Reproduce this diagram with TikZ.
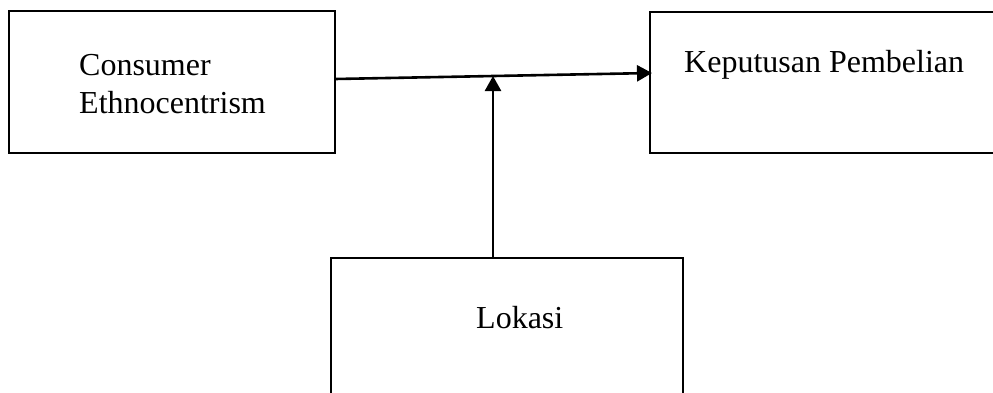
\documentclass[tikz,border=0pt]{standalone}
\usepackage{fontspec}
\setmainfont{Liberation Serif}
\usetikzlibrary{arrows.meta}
\begin{document}
\begin{tikzpicture}[x=1pt,y=-1pt,
  box/.style={draw,line width=2pt,rectangle,inner sep=0pt},
  lbl/.style={anchor=base west,inner sep=0pt,font=\fontsize{32}{38}\selectfont},
  arr/.style={line width=2.6pt,-{Triangle[length=15pt,width=16pt]}}]
\useasboundingbox (0,0) rectangle (993,392);
\clip (0,0) rectangle (993,392);
\node[box,minimum width=326pt,minimum height=142pt] (ce) at (172,82) {};
\node[box,minimum width=354pt,minimum height=141pt] (kp) at (827,82.5) {};
\node[box,minimum width=352pt,minimum height=144pt] (lok) at (507,330) {};
\node[lbl] (t1) at (79,75) {Consumer};
\node[lbl] (t2) at (79,113) {Ethnocentrism};
\node[lbl] (t3) at (684,72) {Keputusan Pembelian};
\node[lbl] (t4) at (476,328) {Lokasi};
\coordinate (s) at (335,79);
\coordinate (e) at (652,73);
\coordinate (m) at (493,76);
\coordinate (b) at (493,258);
\draw[arr] (s) -- (e);
\draw[arr] (b) -- (m);
\end{tikzpicture}
\end{document}
